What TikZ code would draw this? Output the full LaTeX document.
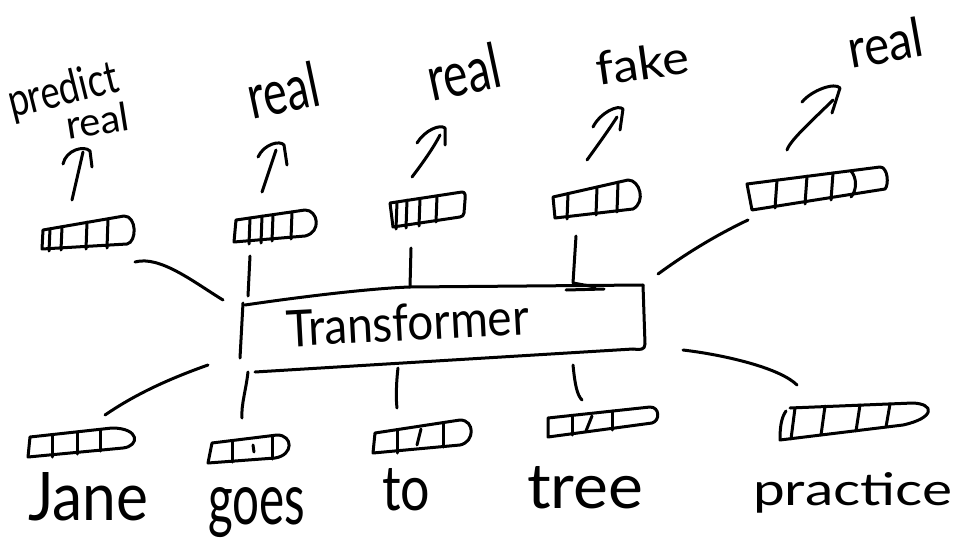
\documentclass[tikz,border=0pt]{standalone}
\usepackage{fontspec}
\setmainfont{Lato}
\usepackage{graphicx}
\tikzset{
  ink/.style={line width=3pt, line cap=round, line join=round},
  hand/.style={inner sep=0pt, outer sep=0pt, anchor=base west},
}
% handwritten-looking word: width, height above baseline, text
\newcommand{\hw}[3]{\resizebox{#1pt}{#2pt}{#3}}

\begin{document}
\begin{tikzpicture}[x=1pt,y=-1pt]
\useasboundingbox (0,0) rectangle (957,548);
\fill[white] (0,0) rectangle (957,548);

% ---------- Transformer block ----------
\draw[ink] (243,303) -- (240,358);
\draw[ink] (245,305) .. controls (320,294) and (380,288) .. (410,287) -- (643,285);
\draw[ink] (643,285) -- (645,344) .. controls (645,350) and (640,350) .. (633,349);
\draw[ink] (633,349) -- (255,372);
\node[hand, rotate=3] (tf) at (287,347) {\hw{243}{37}{Transformer}};
\coordinate (boxtl) at (223,300);
\coordinate (boxt1) at (248,296);
\coordinate (boxt2) at (410,287);
\coordinate (boxt3) at (573,283);
\coordinate (boxtr) at (658,274);
\coordinate (boxbl) at (208,365);
\coordinate (boxb1) at (248,372);
\coordinate (boxb2) at (398,368);
\coordinate (boxb3) at (573,365);
\coordinate (boxbr) at (683,350);

% ---------- output vectors ----------
\draw[ink] (43,230) -- (124,216) .. controls (137,216) and (137,242) .. (127,244) -- (42,249) -- cycle;
\foreach \x/\a/\b in {50/229/251, 62/227/250, 87/222/249, 108/219/248} \draw[ink] (\x,\a) -- (\x-1,\b);
\coordinate (o1) at (135,262);

\draw[ink] (236,220) -- (305,210) .. controls (318,210) and (322,232) .. (305,236) -- (234,242) -- cycle;
\foreach \x/\a/\b in {250/218/244, 262/216/243, 273/215/241, 292/212/239} \draw[ink] (\x,\a) -- (\x-1,\b);
\coordinate (o2) at (250,256);

\draw[ink] (390,203) -- (462,192) .. controls (466,192) and (465,196) .. (465,200) -- (464,213) .. controls (464,216) and (462,216) .. (460,217) -- (393,227) -- cycle;
\foreach \x/\a/\b in {397/202/229, 407/200/228, 420/199/226, 437/196/222} \draw[ink] (\x,\a) -- (\x-1,\b);
\coordinate (o3) at (411,248);

\draw[ink] (553,197) -- (628,180) .. controls (640,180) and (646,202) .. (633,209) -- (555,218) -- cycle;
\foreach \x/\a/\b in {568/194/219, 597/187/215, 618/182/212} \draw[ink] (\x,\a) -- (\x-1,\b);
\coordinate (o4) at (576,236);

\draw[ink] (747,184) -- (880,167) .. controls (888,167) and (889,185) .. (885,189) -- (752,210) -- cycle;
\foreach \x/\a/\b in {777/180/208, 807/176/204, 833/173/200} \draw[ink] (\x,\a) -- (\x-2,\b);
\draw[ink] (851,171) .. controls (857,178) and (857,190) .. (851,197);
\coordinate (o5) at (748,220);

% ---------- input vectors ----------
\draw[ink] (30,437) -- (112,428) .. controls (140,428) and (140,446) .. (123,448) -- (28,457) -- cycle;
\foreach \x/\a/\b in {52/435/457, 77/432/454, 100/430/451} \draw[ink] (\x,\a) -- (\x,\b);
\coordinate (i1) at (105,415);

\draw[ink] (212,443) -- (277,435) .. controls (293,435) and (294,455) .. (275,458) -- (208,463) -- cycle;
\foreach \x/\a/\b in {232/441/462, 272/436/459} \draw[ink] (\x,\a) -- (\x,\b);
\draw[ink] (253,445) -- (254,452);
\coordinate (i2) at (242,418);

\draw[ink] (375,433) -- (460,420) .. controls (475,420) and (475,442) .. (460,445) -- (373,453) -- cycle;
\foreach \x/\a/\b in {397/430/453, 443/423/447} \draw[ink] (\x,\a) -- (\x,\b);
\draw[ink] (421,429) -- (417,445);
\coordinate (i3) at (397,408);

\draw[ink] (548,418) -- (650,407) .. controls (660,407) and (660,421) .. (652,423) -- (548,437) -- cycle;
\foreach \x/\a/\b in {572/416/435, 612/411/430} \draw[ink] (\x,\a) -- (\x,\b);
\draw[ink] (592,416) -- (586,431);
\coordinate (i4) at (582,400);

\draw[ink] (790,408) -- (913,403) .. controls (935,404) and (935,418) .. (903,425) -- (780,440) .. controls (780,428) and (781,418) .. (786,411);
\foreach \x/\a/\b in {795/408/439, 825/406/435, 860/405/431, 890/404/427} \draw[ink] (\x,\a) -- (\x-4,\b);
\coordinate (i5) at (797,385);

% ---------- connectors into the block ----------
\draw[ink] (o1) .. controls (160,255) and (195,283) .. (boxtl);
\draw[ink] (o2) -- (boxt1);
\draw[ink] (o3) -- (boxt2);
\draw[ink] (o4) -- (boxt3) -- (595,287);
\draw[ink] (566,290) -- (604,289);
\draw[ink] (o5) .. controls (710,238) and (680,258) .. (boxtr);

\draw[ink] (boxbl) .. controls (160,382) and (130,398) .. (i1);
\draw[ink] (boxb1) .. controls (246,390) and (241,405) .. (i2);
\draw[ink] (boxb2) .. controls (396,385) and (396,400) .. (i3);
\draw[ink] (boxb3) .. controls (575,385) and (577,395) .. (i4);
\draw[ink] (boxbr) .. controls (725,355) and (780,368) .. (i5);

% ---------- prediction arrows ----------
\coordinate (a1) at (72,200); \coordinate (h1) at (83,152);
\draw[ink] (a1) -- (h1);
\draw[ink] (63,164) .. controls (66,150) and (84,145) .. (90,151) -- (92,167);
\coordinate (a2) at (262,192); \coordinate (h2) at (276,150);
\draw[ink] (a2) -- (h2);
\draw[ink] (258,157) .. controls (264,144) and (280,140) .. (284,145) -- (287,165);
\coordinate (a3) at (412,177); \coordinate (h3) at (440,135);
\draw[ink] (a3) .. controls (425,160) and (435,145) .. (h3);
\draw[ink] (417,143) .. controls (425,130) and (440,124) .. (445,128) -- (445,145);
\coordinate (a4) at (587,160); \coordinate (h4) at (617,117);
\draw[ink] (a4) .. controls (600,142) and (610,128) .. (h4);
\draw[ink] (593,127) .. controls (600,113) and (618,104) .. (623,109) -- (620,130);
\coordinate (a5) at (787,150); \coordinate (h5) at (833,100);
\draw[ink] (a5) .. controls (790,140) and (815,118) .. (h5);
\draw[ink] (802,102) .. controls (812,90) and (835,82) .. (840,88) -- (832,113);

% ---------- labels ----------
\node[hand, rotate=14] (lp) at (12,118) {\hw{112}{34}{predict}};
\node[hand, rotate=9]  (l1) at (68,140) {\hw{64}{29}{real}};
\node[hand, rotate=12] (l2) at (252,120) {\hw{72}{46}{real}};
\node[hand, rotate=12] (l3) at (432,102) {\hw{74}{46}{real}};
\node[hand, rotate=8]  (l4) at (598,86)  {\hw{94}{34}{fake}};
\node[hand, rotate=10] (l5) at (851,69)  {\hw{76}{40}{real}};

\node[hand] (w1) at (28,520)  {\hw{120}{48}{Jane}};
\node[hand] (w2) at (208,524) {\hw{97}{37}{goes}};
\node[hand] (w3) at (382,510) {\hw{48}{42}{to}};
\node[hand] (w4) at (527,508) {\hw{116}{42}{tree}};
\node[hand] (w5) at (753,505) {\hw{199}{33}{practice}};
\end{tikzpicture}
\end{document}
